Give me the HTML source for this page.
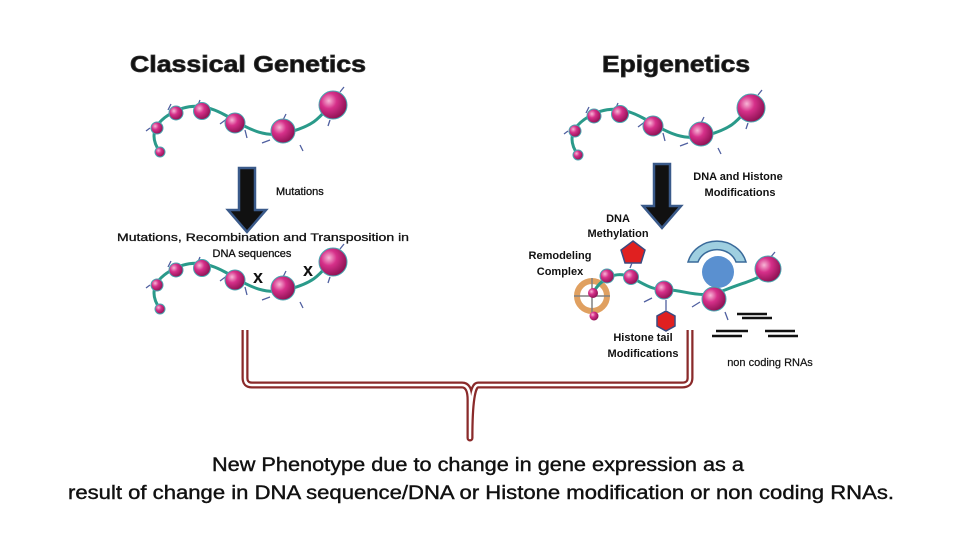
<!DOCTYPE html>
<html><head><meta charset="utf-8"><style>
html,body{margin:0;padding:0;background:#fff}
svg{display:block}
text{font-family:"Liberation Sans",sans-serif}
</style></head><body>
<svg width="960" height="540" viewBox="0 0 960 540" xmlns="http://www.w3.org/2000/svg">
<defs>
<radialGradient id="bead" cx="0.35" cy="0.35" r="0.7">
<stop offset="0" stop-color="#f7b6d6"/><stop offset="0.4" stop-color="#d6308a"/><stop offset="1" stop-color="#8a1050"/>
</radialGradient>
<g id="strand">
<path d="M160,152 C150,138 152,125 170,114 S205,104 225,115 S262,140 290,132 S320,116 335,100" fill="none" stroke="#2a9a8a" stroke-width="3"/>
<g stroke="#5060a0" stroke-width="1.3" fill="none">
<path d="M150,128 l-4,3 M168,110 l3,-6 M198,105 l2,-5 M228,118 l-8,6 M245,130 l2,8 M283,120 l3,-6 M270,140 l-8,3 M300,145 l3,6 M340,92 l4,-5 M330,120 l-2,6"/>
</g>
<circle cx="160" cy="152" r="5" fill="url(#bead)" stroke="#4aa6b0"/>
<circle cx="157" cy="128" r="6" fill="url(#bead)" stroke="#4aa6b0"/>
<circle cx="176" cy="113" r="7" fill="url(#bead)" stroke="#4aa6b0"/>
<circle cx="202" cy="111" r="8.5" fill="url(#bead)" stroke="#4aa6b0"/>
<circle cx="235" cy="123" r="10" fill="url(#bead)" stroke="#4aa6b0"/>
<circle cx="283" cy="131" r="12" fill="url(#bead)" stroke="#4aa6b0"/>
<circle cx="333" cy="105" r="14" fill="url(#bead)" stroke="#4aa6b0"/>
</g>
<g id="arrow">
<path d="M-8,0 h16 v42 h11 l-19,22 l-19,-22 h11 z" fill="#111" stroke="#3a5a8a" stroke-width="2.5"/>
</g>
</defs>

<text x="248" y="72" font-size="23" font-weight="bold" text-anchor="middle" fill="#111" stroke="#333" stroke-width="0.8" textLength="236" lengthAdjust="spacingAndGlyphs">Classical Genetics</text>
<text x="676" y="72" font-size="23" font-weight="bold" text-anchor="middle" fill="#111" stroke="#333" stroke-width="0.8" textLength="148" lengthAdjust="spacingAndGlyphs">Epigenetics</text>

<use href="#strand"/>
<use href="#strand" transform="translate(418,3)"/>
<use href="#strand" transform="translate(0,157)"/>

<use href="#arrow" transform="translate(247,168)"/>
<use href="#arrow" transform="translate(662,164)"/>

<text x="276" y="195" font-size="11" fill="#111" stroke="#111" stroke-width="0.3">Mutations</text>
<text x="263" y="241" font-size="11" text-anchor="middle" fill="#111" stroke="#111" stroke-width="0.3" textLength="292" lengthAdjust="spacingAndGlyphs">Mutations, Recombination and Transposition in</text>
<text x="252" y="257" font-size="11" text-anchor="middle" fill="#111" stroke="#111" stroke-width="0.3">DNA sequences</text>
<text x="258" y="283" font-size="18" font-weight="bold" text-anchor="middle" fill="#111">x</text>
<text x="308" y="276" font-size="18" font-weight="bold" text-anchor="middle" fill="#111">x</text>

<text x="738" y="180" font-size="11" font-weight="bold" text-anchor="middle" fill="#111">DNA and Histone</text>
<text x="740" y="196" font-size="11" font-weight="bold" text-anchor="middle" fill="#111">Modifications</text>
<text x="618" y="222" font-size="11" font-weight="bold" text-anchor="middle" fill="#111">DNA</text>
<text x="618" y="237" font-size="11" font-weight="bold" text-anchor="middle" fill="#111">Methylation</text>
<text x="560" y="259" font-size="11" font-weight="bold" text-anchor="middle" fill="#111">Remodeling</text>
<text x="560" y="275" font-size="11" font-weight="bold" text-anchor="middle" fill="#111">Complex</text>
<text x="643" y="341" font-size="11" font-weight="bold" text-anchor="middle" fill="#111">Histone tail</text>
<text x="643" y="357" font-size="11" font-weight="bold" text-anchor="middle" fill="#111">Modifications</text>
<text x="770" y="366" font-size="11" text-anchor="middle" fill="#111" stroke="#111" stroke-width="0.2">non coding RNAs</text>

<circle cx="592" cy="296" r="15" fill="none" stroke="#e0a060" stroke-width="6"/>
<path d="M574,296 h36 M592,278 v36" stroke="#808080" stroke-width="1.5"/>
<path d="M593,293 C600,280 615,270 630,277 S650,290 668,290 S700,300 725,290 S760,280 768,268" fill="none" stroke="#2a9a8a" stroke-width="3"/>
<path d="M688,262 A30,28 0 0 1 746,262 L736,262 A20,18 0 0 0 698,262 Z" fill="#9fcfe0" stroke="#3a6a9a" stroke-width="1.5"/>
<circle cx="718" cy="272" r="16" fill="#5a90d0"/>
<polygon points="633,241 645,250 641,263 625,263 621,250" fill="#e02020" stroke="#3a4a80" stroke-width="1.5"/>
<polygon points="666,311 675,316 675,326 666,331 657,326 657,316" fill="#e02020" stroke="#3a4a80" stroke-width="1.5"/>
<g stroke="#5060a0" stroke-width="1.3" fill="none"><path d="M630,268 l2,-5 M666,300 l0,10 M652,298 l-8,4 M700,302 l-8,5 M725,312 l3,8 M770,258 l5,-6"/></g>
<circle cx="593" cy="293" r="5" fill="url(#bead)"/>
<circle cx="594" cy="316" r="4.5" fill="url(#bead)"/>
<circle cx="607" cy="276" r="7" fill="url(#bead)" stroke="#4aa6b0"/>
<circle cx="631" cy="277" r="7.5" fill="url(#bead)" stroke="#4aa6b0"/>
<circle cx="664" cy="290" r="9" fill="url(#bead)" stroke="#4aa6b0"/>
<circle cx="714" cy="299" r="12" fill="url(#bead)" stroke="#4aa6b0"/>
<circle cx="768" cy="269" r="13" fill="url(#bead)" stroke="#4aa6b0"/>
<g stroke="#111" stroke-width="2.5">
<path d="M737,314 h30 M742,318 h30 M716,331 h32 M712,336 h30 M765,331 h30 M768,336 h30"/>
</g>

<path d="M245,330 V378 Q245,385 252,385 H462 Q470,385 470,400 V438 Q470,385 478,385 H682 Q690,385 690,378 V330" fill="none" stroke="#8a2a2a" stroke-width="7" stroke-linejoin="round"/>
<path d="M245,330 V378 Q245,385 252,385 H462 Q470,385 470,400 V438 Q470,385 478,385 H682 Q690,385 690,378 V330" fill="none" stroke="#fff" stroke-width="2.5" stroke-linejoin="round"/>

<text x="478" y="471" font-size="19" text-anchor="middle" fill="#111" stroke="#111" stroke-width="0.4" textLength="532" lengthAdjust="spacingAndGlyphs">New Phenotype due to change in gene expression as a</text>
<text x="481" y="499" font-size="19" text-anchor="middle" fill="#111" stroke="#111" stroke-width="0.4" textLength="826" lengthAdjust="spacingAndGlyphs">result of change in DNA sequence/DNA or Histone modification or non coding RNAs.</text>
</svg>
</body></html>
